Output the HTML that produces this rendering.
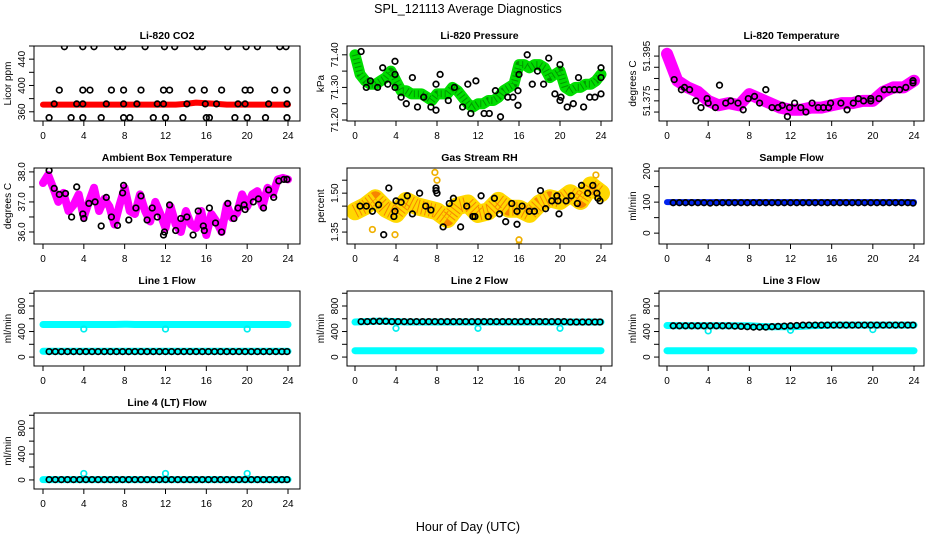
<!DOCTYPE html>
<html><head><meta charset="utf-8"><title>SPL_121113 Average Diagnostics</title>
<style>
html,body{margin:0;padding:0;background:#fff;}
svg{display:block;font-family:"Liberation Sans",Arial,sans-serif;}
.pt{font-size:10.5px;font-weight:bold;}
.tk{font-size:10px;}
</style></head>
<body>
<svg id="chart" width="936" height="540" viewBox="0 0 936 540" xmlns="http://www.w3.org/2000/svg">
<rect width="936" height="540" fill="#fff"/>
<text x="468" y="13" text-anchor="middle" font-size="12.5">SPL_121113  Average Diagnostics</text>
<text x="468" y="531" text-anchor="middle" font-size="12.5">Hour of Day (UTC)</text>
</svg>
<script>
// ---- shared x data ----
const xTicks = [0,4,8,12,16,20,24];
const circHours = [0.6,1.2,1.8,2.4,3.0,3.6,4.2,4.8,5.4,6.0,6.6,7.2,7.8,8.4,9.0,9.6,10.2,10.8,11.4,12.0,12.6,13.2,13.8,14.4,15.0,15.6,16.2,16.8,17.4,18.0,18.6,19.2,19.8,20.4,21.0,21.6,22.2,22.8,23.4,23.9];

// ---- CO2 ----
const co2Band = [371,371,371,371,371,371,371,371,371,371,371,371,371,371,372,374,373,372,371,371,371,371,371,371,371];
const co2CircH = [2.1,3.9,5.0,7.3,7.8,10.0,11.9,12.9,15.1,15.6,18.1,19.9,21.0,23.2,23.8, 1.6,3.9,4.6,6.7,7.9,9.6,11.8,12.4,14.6,15.8,17.5,19.8,20.3,22.7,23.9, 1.1,3.3,3.9,6.2,7.9,9.2,11.2,11.8,14.1,15.9,17.0,19.1,19.8,22.1,23.9, 0.6,2.75,3.9,5.7,7.9,8.5,10.8,12.0,13.7,16.0,16.3,18.8,20.0,21.8,23.9];
const co2CircV = [459,459,459,459,459,459,459,459,459,459,459,459,459,459,459, 393,393,393,393,393,393,393,393,393,393,393,393,393,393,393, 372,372,372,372,372,372,372,372,372,372,372,372,372,372,372, 351,351,351,351,351,351,351,351,351,351,351,351,351,351,351];

// ---- Pressure ----
const presBand = [71.40,71.34,71.32,71.31,71.31,71.32,71.33,71.35,71.32,71.29,71.29,71.28,71.28,71.28,71.27,71.26,71.28,71.28,71.28,71.30,71.29,71.27,71.25,71.24,71.25,71.25,71.26,71.26,71.27,71.29,71.30,71.31,71.37,71.37,71.36,71.37,71.37,71.36,71.33,71.34,71.35,71.30,71.29,71.30,71.30,71.31,71.31,71.32,71.34];
const presCircH = [0.6,1.1,1.5,2.2,2.7,3.2,3.9,3.9,3.9,4.5,5.0,5.6,6.1,6.7,7.4,7.9,7.9,8.3,9.1,9.7,10.5,11.0,11.3,11.8,12.6,13.1,14.2,13.7,14.9,15.4,15.9,16.0,15.9,16.8,17.3,17.8,18.4,18.9,19.5,20.0,20.0,20.1,20.7,21.3,21.8,22.3,22.9,23.4,24.0,24.0,24.0];
const presCircV = [71.41,71.30,71.32,71.30,71.36,71.31,71.38,71.34,71.30,71.27,71.25,71.33,71.24,71.27,71.24,71.23,71.31,71.34,71.26,71.30,71.24,71.31,71.22,71.32,71.22,71.22,71.21,71.29,71.27,71.27,71.29,71.34,71.245,71.40,71.31,71.35,71.31,71.39,71.28,71.37,71.26,71.27,71.24,71.25,71.33,71.24,71.27,71.27,71.33,71.28,71.36];

// ---- Li-820 temperature ----
const tempBand = [51.396,51.384,51.381,51.379,51.375,51.373,51.374,51.373,51.378,51.376,51.374,51.372,51.371,51.371,51.372,51.372,51.373,51.374,51.374,51.375,51.375,51.379,51.381,51.381,51.384];
const tempCircH = [0.7,1.4,1.7,2.2,2.8,3.3,3.9,4.0,4.7,5.1,5.7,6.2,6.9,7.4,7.9,8.5,9.0,9.6,10.2,10.8,11.2,11.7,11.9,12.4,13.0,13.5,14.1,14.7,15.2,15.7,15.9,16.9,17.5,18.1,18.6,19.1,19.8,19.8,20.6,21.1,21.6,22.1,22.6,23.2,23.9,23.9];
const tempCircV = [51.3845,51.380,51.381,51.380,51.375,51.372,51.376,51.374,51.372,51.382,51.374,51.375,51.374,51.371,51.376,51.377,51.374,51.380,51.372,51.372,51.373,51.368,51.372,51.374,51.372,51.370,51.374,51.372,51.372,51.372,51.374,51.374,51.371,51.374,51.376,51.375,51.376,51.375,51.376,51.380,51.380,51.380,51.380,51.381,51.384,51.383];

// ---- Ambient box temperature ----
const ambBand = [37.63,37.9,37.47,37.0,37.3,36.7,36.9,37.25,36.5,37.0,37.47,36.7,37.1,36.85,36.25,36.9,37.47,36.7,36.6,37.25,36.7,36.35,37.0,36.6,36.13,36.85,36.25,36.0,36.7,36.25,36.13,36.7,35.9,36.6,36.35,36.0,36.9,36.47,36.63,37.25,36.85,37.25,37.36,36.85,37.47,37.25,37.75,37.8,37.75];
const ambCircH = [0.6,1.1,1.6,2.2,2.8,3.3,3.9,4.0,4.5,5.1,5.7,6.2,6.7,7.3,7.8,7.9,8.4,9.1,9.6,10.2,10.7,11.2,11.8,11.9,12.4,13.0,13.5,14.1,14.7,15.2,15.7,15.8,16.3,16.9,17.5,18.1,18.7,19.1,19.7,19.8,20.6,21.1,21.6,22.1,22.6,23.1,23.6,23.9];
const ambCircV = [38.05,37.45,37.25,37.28,36.5,37.5,36.6,36.45,36.95,37.0,36.2,37.15,36.5,36.22,37.3,37.55,36.4,36.8,37.2,36.4,36.8,36.5,35.9,36.0,36.9,36.05,36.45,36.5,35.9,36.7,36.2,36.05,36.8,36.3,36.0,36.95,36.45,36.8,36.9,36.75,37.0,37.1,36.8,37.4,37.15,37.7,37.75,37.75];

// ---- Gas stream RH ----
const rhBand = [1.43,1.45,1.48,1.44,1.42,1.47,1.45,1.44,1.43,1.40,1.45,1.46,1.42,1.43,1.47,1.44,1.44,1.42,1.46,1.48,1.47,1.50,1.47,1.53,1.50];
const rhOutH = [1.7,3.9,7.8,16.0,16.0,23.5,8.0];
const rhOutV = [1.36,1.34,1.58,1.30,1.32,1.57,1.55];
const rhCircH = [0.5,1.1,1.7,2.3,2.8,3.3,3.8,3.9,4.0,4.5,5.1,5.6,6.3,6.9,7.4,7.9,7.9,8.0,8.6,9.2,9.6,10.3,10.9,11.5,11.7,12.3,13.0,13.6,14.1,14.7,15.3,15.8,15.8,16.3,17.0,17.5,18.1,18.6,19.2,19.7,19.8,19.9,20.6,21.1,21.7,22.1,22.7,23.2,23.6,23.7,23.9];
const rhCircV = [1.45,1.45,1.43,1.455,1.34,1.52,1.41,1.43,1.47,1.465,1.49,1.42,1.50,1.45,1.435,1.52,1.51,1.50,1.37,1.46,1.48,1.37,1.45,1.41,1.41,1.49,1.41,1.48,1.42,1.39,1.46,1.43,1.38,1.45,1.43,1.43,1.51,1.44,1.47,1.49,1.47,1.42,1.47,1.49,1.46,1.53,1.50,1.53,1.50,1.48,1.47];

// ---- Sample flow ----
const sampleBand = [100,100,100,100,100,100,100,100,100,100,100,100,100,100,100,100,100,100,100,100,100,100,100,100,100];
const sampleCircV = [98,98,98,98,98,98,97,98,98,98,98,98,98,98,98,98,98,98,98,98,98,98,98,98,98,98,98,98,98,98,98,98,98,98,98,98,98,98,98,97];

// ---- Line flows ----
const line1Upper = [510,510,510,510,510,510,510,510,515,510,510,510,510,510,510,510,510,510,510,510,510,510,510,510,510];
const line1Lower = [90,90,90,90,90,90,90,90,90,90,90,90,90,90,90,90,90,90,90,90,90,90,90,90,90];
const line1CircV = [85,85,85,85,85,85,85,85,85,85,85,85,85,85,85,85,85,85,85,85,85,85,85,85,85,85,85,85,85,85,85,85,85,85,85,85,85,85,85,85];
const line2Upper = [550,555,560,560,555,550,550,550,550,550,550,550,550,550,550,550,550,550,550,550,550,550,550,550,550];
const line2Lower = [100,100,100,100,100,100,100,100,100,100,100,100,100,100,100,100,100,100,100,100,100,100,100,100,100];
const line2CircV = [555,555,560,560,560,555,555,555,555,555,555,555,555,555,555,555,555,555,555,555,555,555,555,555,555,555,555,555,555,555,555,555,555,555,550,550,550,550,550,550];
const line3Upper = [495,490,490,490,490,490,490,490,490,480,475,475,475,480,490,495,500,500,500,500,500,500,500,500,500];
const line3Lower = [100,100,100,100,100,100,100,100,100,100,100,100,100,100,100,100,100,100,100,100,100,100,100,100,100];
const line3CircV = [490,490,490,490,490,490,490,490,490,490,485,480,475,470,470,470,475,480,485,490,495,500,500,500,500,500,500,500,500,500,500,500,500,500,500,500,500,500,500,500];
const line4Band = [5,5,5,5,5,5,5,5,5,5,5,5,5,5,5,5,5,5,5,5,5,5,5,5,5];
const line4CircV = [5,5,5,5,5,5,5,5,5,5,5,5,5,5,5,5,5,5,5,5,5,5,5,5,5,5,5,5,5,5,5,5,5,5,5,5,5,5,5,5];
const flowOutH = [4,12,20];
const line1OutV = [440,440,440];
const line2OutV = [450,450,450];
const line3OutV = [410,420,430];
const line4OutV = [100,100,100];

// ---- layout ----
const colL=[34,347,659], colR=[300,612,924], colX0=[43,355,667], colX24=[288,601,914];
const rowT=[46,168,291,413], rowB=[121,244,366,489];
const svg=document.getElementById('chart');
const NS='http://www.w3.org/2000/svg';
function mk(tag,attrs,parent){const e=document.createElementNS(NS,tag);for(const k in attrs)e.setAttribute(k,attrs[k]);(parent||svg).appendChild(e);return e;}

function panel(cfg){
  const c=cfg.col,r=cfg.row;
  const g=mk('g',{});
  
  
  const L=colL[c],R=colR[c],T=rowT[r],B=rowB[r];
  const X=h=>colX0[c]+(colX24[c]-colX0[c])*h/24;
  const Y=v=>B-(v-cfg.ymin)/(cfg.ymax-cfg.ymin)*(B-T);
  const clipId='clip'+c+r;
  const cp=mk('clipPath',{id:clipId},g);mk('rect',{x:L,y:T,width:R-L,height:B-T},cp);
  const data=mk('g',{'clip-path':'url(#'+clipId+')'},g);
  (cfg.bands||[]).forEach(b=>{
    const n=b.v.length;
    const pts=b.v.map((v,i)=>X(i*24/(n-1)).toFixed(1)+','+Y(v).toFixed(1)).join(' ');
    const pl=mk('polyline',{points:pts,fill:'none',stroke:b.color,'stroke-width':b.w,'stroke-linejoin':'round','stroke-linecap':'round'},data);
    
    
    if(b.dots){mk('polyline',{points:pts,fill:'none',stroke:b.dots,'stroke-width':b.w-4,'stroke-dasharray':'1 3','stroke-linejoin':'round',opacity:b.dop||0.6},data);}
  });
  (cfg.pts||[]).forEach(p=>{
    p.h.forEach((h,i)=>{
      const ci=mk('circle',{cx:X(h).toFixed(1),cy:Y(p.v[i]).toFixed(1),r:p.r||2.8,fill:'none',stroke:p.color,'stroke-width':1.7},data);
      
      
    });
  });
  mk('rect',{x:L,y:T,width:R-L,height:B-T,fill:'none',stroke:'#000','stroke-width':1},g);
  mk('line',{x1:X(0),y1:B,x2:X(24),y2:B,stroke:'#000'},g);
  xTicks.forEach(t=>{
    mk('line',{x1:X(t),y1:B,x2:X(t),y2:B+5,stroke:'#000'},g);
    const tx=mk('text',{x:X(t),y:B+18,'text-anchor':'middle',class:'tk'},g);tx.textContent=t;
    
    
  });
  cfg.yt.filter(t=>t>=cfg.ymin&&t<=cfg.ymax).forEach(t=>{const y=Y(t);mk('line',{x1:L-5,y1:y,x2:L,y2:y,stroke:'#000'},g);});
  cfg.yl.forEach((t,i)=>{const y=Y(t);const tx=mk('text',{x:L-9,y:y,'text-anchor':'middle',class:'tk',transform:'rotate(-90 '+(L-9)+' '+y+')'},g);tx.textContent=cfg.ylt[i];
    
    });
  const ym=(T+B)/2,yx=L-23;
  const yl=mk('text',{x:yx,y:ym,'text-anchor':'middle',class:'tk',transform:'rotate(-90 '+yx+' '+ym+')'},g);yl.textContent=cfg.ylab;
  
  
  const tt=mk('text',{x:(L+R)/2,y:T-7,'text-anchor':'middle',class:'pt'},g);tt.textContent=cfg.title;
  
  
}
const flowT=[-200,0,200,400,600,800,1000], flowL=[0,400,800];
panel({name:'co2-panel',col:0,row:0,title:'Li-820 CO2',ylab:'Licor ppm',ymin:346,ymax:460,yt:[360,380,400,420,440,460],yl:[360,400,440],ylt:['360','400','440'],
  bands:[{name:'co2-band',v:co2Band,color:'#ff0000',w:6}],pts:[{name:'co2-point',h:co2CircH,v:co2CircV,color:'#000'}]});
panel({name:'pressure-panel',col:1,row:0,title:'Li-820 Pressure',ylab:'kPa',ymin:71.197,ymax:71.427,yt:[71.20,71.25,71.30,71.35,71.40],yl:[71.20,71.30,71.40],ylt:['71.20','71.30','71.40'],
  bands:[{name:'pressure-band',v:presBand,color:'#00dd00',w:11,dots:'#006600'}],pts:[{name:'pressure-point',h:presCircH,v:presCircV,color:'#000'}]});
panel({name:'li820-temp-panel',col:2,row:0,title:'Li-820 Temperature',ylab:'degrees C',ymin:51.366,ymax:51.3995,yt:[51.37,51.375,51.38,51.385,51.39,51.395],yl:[51.375,51.395],ylt:['51.375','51.395'],
  bands:[{name:'li820-temp-band',v:tempBand,color:'#ff00ff',w:12}],pts:[{name:'li820-temp-point',h:tempCircH,v:tempCircV,color:'#000'}]});
panel({name:'ambient-temp-panel',col:0,row:1,title:'Ambient Box Temperature',ylab:'degrees C',ymin:35.6,ymax:38.13,yt:[36,36.5,37,37.5,38],yl:[36,37,38],ylt:['36.0','37.0','38.0'],
  bands:[{name:'ambient-temp-band',v:ambBand,color:'#ff00ff',w:8}],pts:[{name:'ambient-temp-point',h:ambCircH,v:ambCircV,color:'#000'}]});
panel({name:'rh-panel',col:1,row:1,title:'Gas Stream RH',ylab:'percent',ymin:1.304,ymax:1.597,yt:[1.35,1.40,1.45,1.50,1.55],yl:[1.35,1.50],ylt:['1.35','1.50'],
  bands:[{name:'rh-band',v:rhBand,color:'#ffd800',w:18,dots:'#ee2200',dop:0.45}],pts:[{name:'rh-outlier',h:rhOutH,v:rhOutV,color:'#f0b000'},{name:'rh-point',h:rhCircH,v:rhCircV,color:'#000'}]});
panel({name:'sample-flow-panel',col:2,row:1,title:'Sample Flow',ylab:'ml/min',ymin:-35,ymax:210,yt:[0,50,100,150,200],yl:[0,100,200],ylt:['0','100','200'],
  bands:[{name:'sample-flow-band',v:sampleBand,color:'#0022ee',w:6}],pts:[{name:'sample-flow-point',h:circHours,v:sampleCircV,color:'#000'}]});
panel({name:'line1-flow-panel',col:0,row:2,title:'Line 1 Flow',ylab:'ml/min',ymin:-140,ymax:1035,yt:flowT,yl:flowL,ylt:['0','400','800'],
  bands:[{name:'line1-upper-band',v:line1Upper,color:'#00ffff',w:7},{name:'line1-lower-band',v:line1Lower,color:'#00ffff',w:7}],
  pts:[{name:'line1-outlier',h:flowOutH,v:line1OutV,color:'#00eeee'},{name:'line1-point',h:circHours,v:line1CircV,color:'#000'}]});
panel({name:'line2-flow-panel',col:1,row:2,title:'Line 2 Flow',ylab:'ml/min',ymin:-140,ymax:1035,yt:flowT,yl:flowL,ylt:['0','400','800'],
  bands:[{name:'line2-upper-band',v:line2Upper,color:'#00ffff',w:7},{name:'line2-lower-band',v:line2Lower,color:'#00ffff',w:7}],
  pts:[{name:'line2-outlier',h:flowOutH,v:line2OutV,color:'#00eeee'},{name:'line2-point',h:circHours,v:line2CircV,color:'#000'}]});
panel({name:'line3-flow-panel',col:2,row:2,title:'Line 3 Flow',ylab:'ml/min',ymin:-140,ymax:1035,yt:flowT,yl:flowL,ylt:['0','400','800'],
  bands:[{name:'line3-upper-band',v:line3Upper,color:'#00ffff',w:7},{name:'line3-lower-band',v:line3Lower,color:'#00ffff',w:7}],
  pts:[{name:'line3-outlier',h:flowOutH,v:line3OutV,color:'#00eeee'},{name:'line3-point',h:circHours,v:line3CircV,color:'#000'}]});
panel({name:'line4-flow-panel',col:0,row:3,title:'Line 4 (LT) Flow',ylab:'ml/min',ymin:-140,ymax:1035,yt:flowT,yl:flowL,ylt:['0','400','800'],
  bands:[{name:'line4-band',v:line4Band,color:'#00ffff',w:7}],
  pts:[{name:'line4-outlier',h:flowOutH,v:line4OutV,color:'#00eeee'},{name:'line4-point',h:circHours,v:line4CircV,color:'#000'}]});
</script>
</body></html>
